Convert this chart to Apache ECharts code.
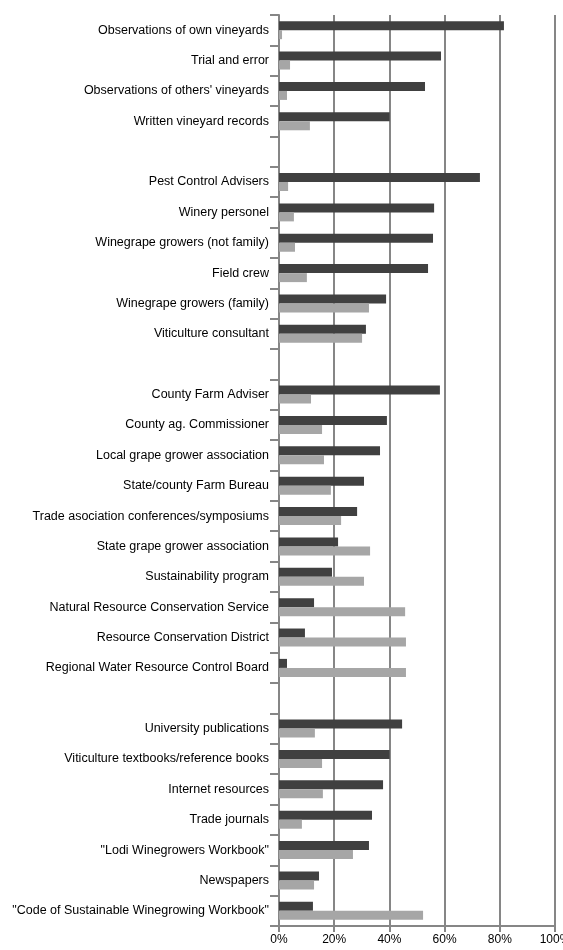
<!DOCTYPE html>
<html>
<head>
<meta charset="utf-8">
<script src="https://cdn.jsdelivr.net/npm/echarts@6/dist/echarts.min.js"></script>
<style>html,body{margin:0;padding:0;background:#fff;}#c{width:563px;height:950px;}</style>
</head>
<body>
<div id="c"></div>
<script>
var categories = [
  'Observations of own vineyards', 'Trial and error', "Observations of others' vineyards", 'Written vineyard records',
  ' ',
  'Pest Control Advisers', 'Winery personel', 'Winegrape growers (not family)', 'Field crew', 'Winegrape growers (family)', 'Viticulture consultant',
  '  ',
  'County Farm Adviser', 'County ag. Commissioner', 'Local grape grower association', 'State/county Farm Bureau', 'Trade asociation conferences/symposiums', 'State grape grower association', 'Sustainability program', 'Natural Resource Conservation Service', 'Resource Conservation District', 'Regional Water Resource Control Board',
  '   ',
  'University publications', 'Viticulture textbooks/reference books', 'Internet resources', 'Trade journals', '"Lodi Winegrowers Workbook"', 'Newspapers', '"Code of Sustainable Winegrowing Workbook"'
];
var darkValues = [
  81.5, 58.7, 52.9, 40.1,
  null,
  72.8, 56.2, 55.8, 54.0, 38.8, 31.5,
  null,
  58.3, 39.1, 36.6, 30.8, 28.3, 21.4, 19.2, 12.7, 9.4, 2.9,
  null,
  44.6, 40.1, 37.7, 33.7, 32.6, 14.5, 12.3
];
var lightValues = [
  1.1, 4.0, 2.9, 11.2,
  null,
  3.3, 5.4, 5.8, 10.1, 32.6, 30.1,
  null,
  11.6, 15.6, 16.3, 18.8, 22.5, 33.0, 30.8, 45.7, 46.0, 46.0,
  null,
  13.0, 15.6, 15.9, 8.3, 26.8, 12.7, 52.2
];
var xTicks = [0, 20, 40, 60, 80, 100];

var chart = echarts.init(document.getElementById('c'), null, {renderer: 'canvas'});
var font = 'Liberation Sans';
chart.setOption({
  animation: false,
  backgroundColor: '#ffffff',
  grid: {left: 279, right: 8, top: 15, bottom: 24, containLabel: false, outerBoundsMode: 'none'},
  xAxis: {
    type: 'value', min: xTicks[0], max: xTicks[xTicks.length - 1], interval: 20,
    axisLine: {show: true, lineStyle: {color: '#868686', width: 2}},
    axisTick: {show: true, length: 6, lineStyle: {color: '#868686', width: 2}},
    splitLine: {show: true, lineStyle: {color: '#868686', width: 2}},
    axisLabel: {formatter: '{value}%', color: '#000', fontFamily: font, fontSize: 12, margin: 8, hideOverlap: false}
  },
  yAxis: {
    type: 'category', data: categories, inverse: true,
    axisLine: {show: true, lineStyle: {color: '#868686', width: 2}},
    axisTick: {show: true, length: 9, lineStyle: {color: '#868686', width: 2}},
    axisLabel: {color: '#000', fontFamily: font, fontSize: 12.5, margin: 10, interval: 0}
  },
  series: [
    {name: 'dark', type: 'bar', data: darkValues, barWidth: 9, barGap: '0%', itemStyle: {color: '#404040'}},
    {name: 'light', type: 'bar', data: lightValues, barWidth: 9, barGap: '0%', itemStyle: {color: '#a6a6a6'}}
  ]
});
</script>
</body>
</html>
